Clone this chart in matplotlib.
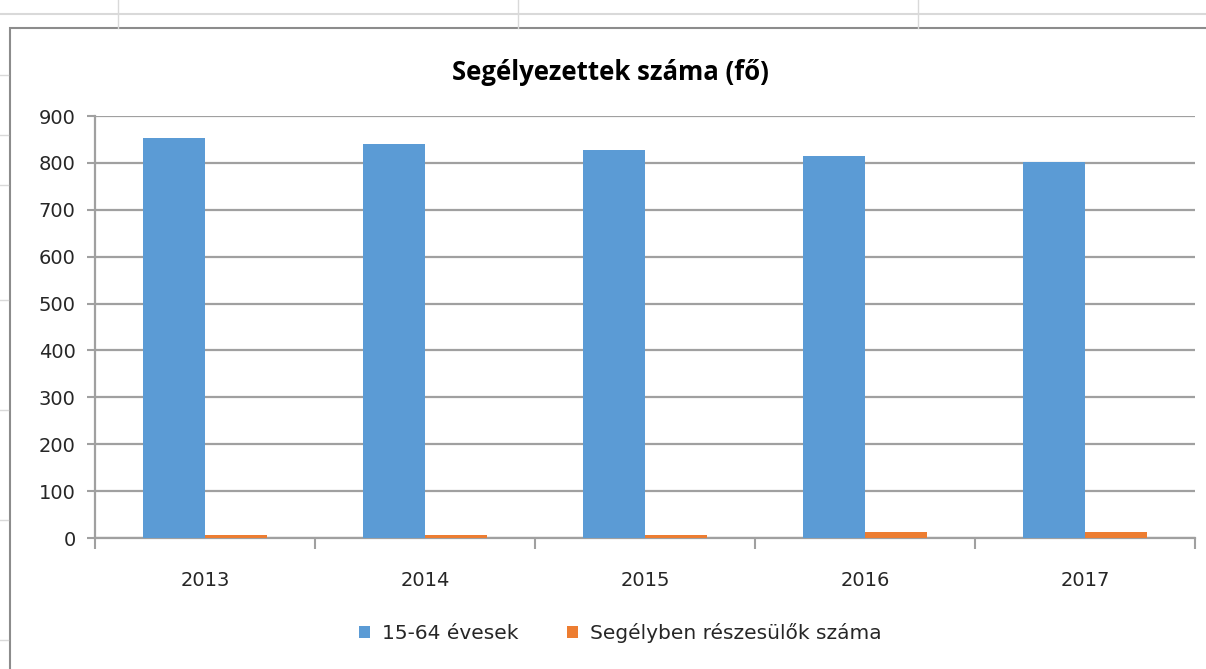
import numpy as np
import matplotlib
matplotlib.use('Agg')
from matplotlib import pyplot as plt
from matplotlib.lines import Line2D
from matplotlib.patches import Rectangle

years = ['2013', '2014', '2015', '2016', '2017']
evesek = [853, 840, 827, 814, 802]
segelyben = [6, 6, 6, 12, 12]
y_ticks = [0, 100, 200, 300, 400, 500, 600, 700, 800, 900]

blue = '#5b9bd5'
orange = '#ed7d31'
grid_gray = '#a0a0a0'

plt.rcParams['font.family'] = ['DejaVu Sans']

fig = plt.figure(figsize=(12.06, 6.69), dpi=100)

# spreadsheet grid + chart frame behind the chart
for xp in [118, 518, 918]:
  fig.add_artist(Line2D([xp / 1206, xp / 1206], [1, 1 - 28 / 669], color='#d9d9d9', lw=1))
fig.add_artist(Line2D([0, 1], [1 - 14 / 669, 1 - 14 / 669], color='#d9d9d9', lw=1.5))
for yp in [75, 135, 185, 300, 410, 520, 640]:
  fig.add_artist(Line2D([0, 8 / 1206], [1 - yp / 669, 1 - yp / 669], color='#d9d9d9', lw=1))
fig.add_artist(Rectangle((10 / 1206, -0.01), 1.0, 1 - 28 / 669 + 0.01, fill=False,
                         edgecolor='#8c8c8c', lw=1.5))

ax = fig.add_axes([95 / 1206, 1 - 538 / 669, 1100 / 1206, 422 / 669])

x = np.arange(len(years))
w = 0.28
ax.bar(x - w / 2, evesek, w, color=blue, label='15-64 évesek', zorder=3)
ax.bar(x + w / 2, segelyben, w, color=orange, label='Segélyben részesülők száma', zorder=3)

ax.set_xlim(-0.5, len(years) - 0.5)
ax.set_ylim(0, 900)
ax.set_yticks(y_ticks)
ax.set_yticklabels([str(v) for v in y_ticks], fontsize=14, color='#262626')
ax.set_xticks(x)
ax.set_xticklabels(years, fontsize=14, color='#262626')
ax.yaxis.grid(True, color=grid_gray, lw=1.6, zorder=0)
ax.set_axisbelow(True)

for s in ['top', 'right']:
  ax.spines[s].set_visible(False)
for s in ['bottom', 'left']:
  ax.spines[s].set_color(grid_gray)
  ax.spines[s].set_linewidth(1.6)
ax.tick_params(axis='y', length=6, width=1.5, color=grid_gray, pad=8)
ax.tick_params(axis='x', length=0, pad=24)
# category boundary ticks
ax.set_xticks(np.arange(len(years) + 1) - 0.5, minor=True)
ax.tick_params(axis='x', which='minor', length=8, color=grid_gray, width=1.5)

fig.text(0.5 + 7 / 1206, 1 - 72 / 669, 'Segélyezettek száma (fő)', ha='center', va='center',
         fontsize=18.5, fontweight='bold', family=['Open Sans', 'DejaVu Sans'])

ax.legend(loc='center', bbox_to_anchor=(0.5 - 25 / 1100, -0.225), ncol=2, frameon=False,
          fontsize=14.5, handlelength=0.55, handleheight=0.55, columnspacing=2.4,
          handletextpad=0.6, labelcolor='#262626')

fig.savefig('out.png', dpi=100)
